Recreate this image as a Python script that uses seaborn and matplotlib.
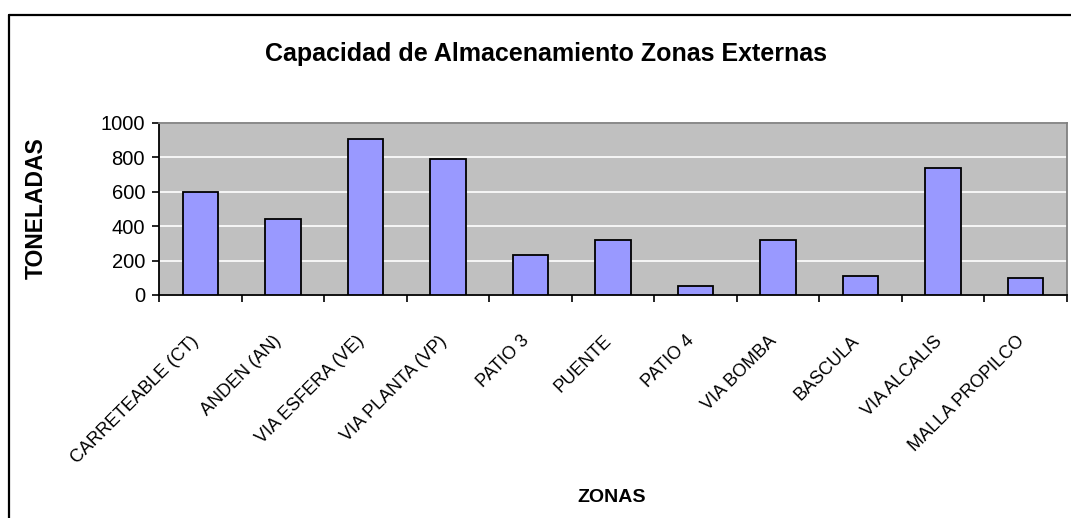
import matplotlib
matplotlib.use("Agg")
import matplotlib.pyplot as plt
import matplotlib.transforms as mtransforms
import seaborn as sns
import pandas as pd
from matplotlib.lines import Line2D

zonas = ["CARRETEABLE (CT)", "ANDEN (AN)", "VIA ESFERA (VE)", "VIA PLANTA (VP)",
         "PATIO 3", "PUENTE", "PATIO 4", "VIA BOMBA", "BASCULA", "VIA ALCALIS",
         "MALLA PROPILCO"]
toneladas = [600, 440, 905, 790, 230, 320, 55, 320, 110, 740, 100]
yticks = [0, 200, 400, 600, 800, 1000]

sns.set_theme(style="white")
plt.rcParams['font.family'] = ['Liberation Sans', 'DejaVu Sans']
plt.rcParams['text.color'] = 'black'
plt.rcParams['xtick.color'] = 'black'
plt.rcParams['ytick.color'] = 'black'

W, H = 1071, 518
fig = plt.figure(figsize=(W / 100, H / 100), dpi=100)
ax = fig.add_axes([159 / W, 1 - 295 / H, (1067 - 159) / W, (295 - 123) / H])

df = pd.DataFrame({"zona": zonas, "t": toneladas})
sns.barplot(data=df, x="zona", y="t", color="#9999FF", saturation=1,
            edgecolor="black", linewidth=1.3, width=0.43, ax=ax, zorder=3)

ax.set_facecolor("#C0C0C0")
ax.set_ylim(0, 1000)
ax.set_xlim(-0.5, len(zonas) - 0.5)
ax.set_yticks(yticks)
ax.set_yticklabels([str(v) for v in yticks], fontsize=14.5, color="black")
ax.yaxis.grid(True, color="white", linewidth=1.2, zorder=0)
ax.set_axisbelow(True)

ax.set_xticks(range(len(zonas)))
ax.set_xticklabels(zonas, rotation=45, ha="right", rotation_mode="anchor",
                   fontsize=13, color="black")
ax.set_xticks([i - 0.5 for i in range(len(zonas) + 1)], minor=True)
ax.tick_params(axis="x", which="major", length=0, pad=27)
ax.tick_params(axis="x", which="minor", length=5, width=1.2, color="black", direction="out", bottom=True)
ax.tick_params(axis="y", length=5, width=1.2, color="black", direction="out", left=True, pad=5)
shift = mtransforms.ScaledTranslation(-0.10, 0, fig.dpi_scale_trans)
for lab in ax.get_xticklabels():
    lab.set_transform(lab.get_transform() + shift)

for s in ["left", "bottom"]:
    ax.spines[s].set_color("black")
    ax.spines[s].set_linewidth(1.3)
for s in ["top", "right"]:
    ax.spines[s].set_color("#808080")
    ax.spines[s].set_linewidth(1.3)
    ax.spines[s].set_visible(True)

ax.set_xlabel("")
ax.set_ylabel("")
fig.text(36 / W, 1 - 208 / H, "TONELADAS", rotation=90, ha="center", va="center",
         fontsize=16.5, fontweight="bold", color="black")
fig.text(612 / W, 1 - 497 / H, "ZONAS", ha="center", va="center",
         fontsize=14, fontweight="bold", color="black")
fig.text(546 / W, 1 - 54 / H, "Capacidad de Almacenamiento Zonas Externas",
         ha="center", va="center", fontsize=18, fontweight="bold", color="black")

fig.add_artist(Line2D([9 / W, 9 / W], [0, 1 - 15 / H], color="black", linewidth=1.6,
                      transform=fig.transFigure))
fig.add_artist(Line2D([9 / W, 1], [1 - 15 / H, 1 - 15 / H], color="black", linewidth=1.6,
                      transform=fig.transFigure))

fig.savefig("out.png", dpi=100)
